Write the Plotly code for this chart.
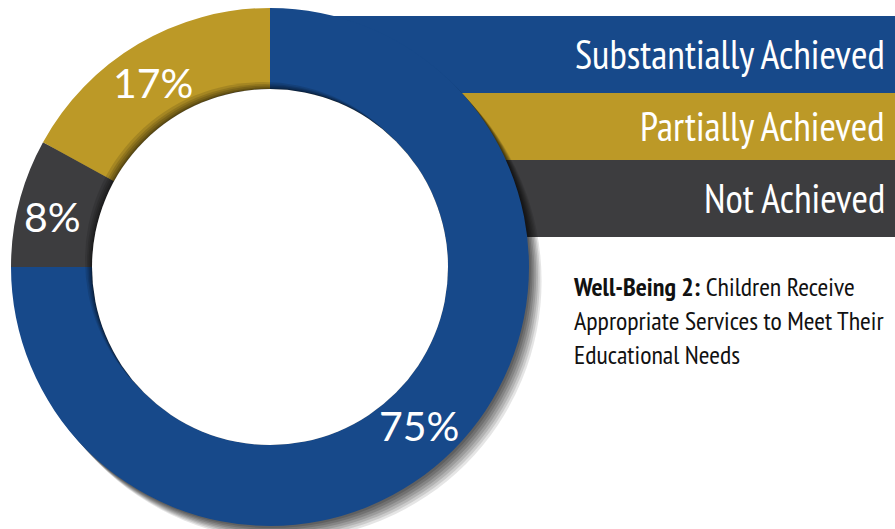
import math
import plotly.graph_objects as go

categories = ["Substantially Achieved", "Not Achieved", "Partially Achieved"]
values = [75, 8, 17]
colors = ["#17498a", "#3d3d3f", "#bc9927"]
pct_labels = ["75%", "8%", "17%"]

legend_labels = ["Substantially Achieved", "Partially Achieved", "Not Achieved"]
legend_colors = ["#17498a", "#bc9927", "#3d3d3f"]

desc_lines = ["<b>Well-Being 2:</b> Children Receive",
              "Appropriate Services to Meet Their",
              "Educational Needs"]

W, H = 895, 529
cx, cy, R, RI = 270, 267, 259, 178

def dom(ox=0, oy=0, r=R):
    x0 = (cx - r + ox) / W
    x1 = (cx + r + ox) / W
    y0 = (H - (cy + r + oy)) / H
    y1 = (H - (cy - r + oy)) / H
    return dict(x=[max(0, x0), min(1, x1)], y=[max(0, y0), min(1, y1)])

def circle(ox, oy, r, color):
    return dict(type="circle", xref="paper", yref="paper",
                x0=(cx + ox - r) / W, x1=(cx + ox + r) / W,
                y0=(H - (cy + oy + r)) / H, y1=(H - (cy + oy - r)) / H,
                fillcolor=color, line=dict(width=0), layer="below")

fig = go.Figure()

# main donut
fig.add_trace(go.Pie(
    labels=categories, values=values, hole=RI / R, sort=False,
    direction="clockwise", rotation=0, domain=dom(),
    marker=dict(colors=colors, line=dict(width=0)),
    textinfo="none", hoverinfo="label+percent", showlegend=False,
))

# inner shading along the hole edge (upper-left)
for o, op in [(7, 0.12), (5, 0.13), (3.5, 0.14), (2, 0.15), (1, 0.15)]:
    fig.add_trace(go.Pie(values=[1], labels=["sh"], hole=0, domain=dom(-o, -o, RI),
                         marker=dict(colors=["rgba(0,0,0,%s)" % op], line=dict(width=0)),
                         textinfo="none", hoverinfo="skip", showlegend=False, sort=False))

# white hole (covers the legend bars behind the donut)
fig.add_trace(go.Pie(values=[1], labels=["bg"], hole=0, domain=dom(0, 0, RI),
                     marker=dict(colors=["white"], line=dict(width=0)),
                     textinfo="none", hoverinfo="skip", showlegend=False, sort=False))

annotations = []
# percentage labels at the middle of each slice on the ring
total = sum(values)
cum = 0
rmid = (R + RI) / 2
for v, t in zip(values, pct_labels):
    ang = math.radians((cum + v / 2) / total * 360)
    cum += v
    px = cx + rmid * math.sin(ang)
    py = cy - rmid * math.cos(ang)
    annotations.append(dict(xref="paper", yref="paper", x=px / W, y=(H - py) / H,
                            xanchor="center", yanchor="middle", showarrow=False, text=t,
                            xshift=-6, yshift=-4,
                            font=dict(family="Lato", size=41, color="white")))

bar_edges = [16, 93, 160, 237]
shapes = []
font_narrow = "PT Sans Narrow, Liberation Sans Narrow, Roboto Condensed, Arial Narrow, sans-serif"
for i, (lab, col) in enumerate(zip(legend_labels, legend_colors)):
    y0 = (H - bar_edges[i + 1]) / H
    y1 = (H - bar_edges[i]) / H
    shapes.append(dict(type="rect", xref="paper", yref="paper", x0=cx / W, x1=1.0,
                       y0=y0, y1=y1, fillcolor=col, line=dict(width=0), layer="below"))
    annotations.append(dict(xref="paper", yref="paper", x=887 / W, y=(y0 + y1) / 2,
                            xanchor="right", yanchor="middle", showarrow=False,
                            text=lab, font=dict(family=font_narrow, size=40, color="white")))

# drop shadow of the donut (down-right)
for o, op in [(14, 0.10), (12, 0.11), (10, 0.12), (8, 0.13), (6, 0.14), (4, 0.15), (2, 0.15)]:
    shapes.append(circle(o * 0.9, o, R, "rgba(0,0,0,%s)" % op))

annotations.append(dict(xref="paper", yref="paper", x=571 / W, y=(H - 320) / H,
                        xanchor="left", yanchor="middle", align="left", showarrow=False,
                        text="<br>".join(desc_lines),
                        font=dict(family=font_narrow, size=26, color="#111111")))

fig.update_layout(
    width=W, height=H, margin=dict(l=0, r=0, t=0, b=0),
    paper_bgcolor="white", plot_bgcolor="white",
    shapes=shapes, annotations=annotations,
)
fig.write_html("out.html", config={"displayModeBar": False},
               post_script="document.body.style.margin='0';document.body.style.overflow='hidden';")
